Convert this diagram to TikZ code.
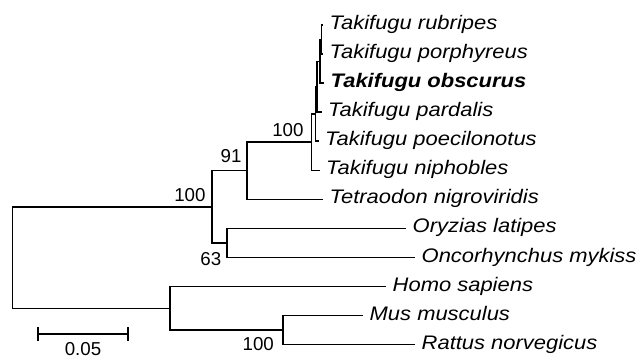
\documentclass[tikz,border=0pt]{standalone}
\usepackage{fontspec}
\setmainfont{Liberation Sans}
\newfontfamily\spfont{Liberation Sans}[FakeStretch=1.12]
\begin{document}
\begin{tikzpicture}[x=1pt,y=-1pt,
  branch/.style={line width=1.5pt,line join=miter},
  leaf/.style={inner sep=0pt,anchor=base west,xshift=6.5pt,yshift=-4.5pt,
    font=\spfont\itshape\fontsize{19.6}{23}\selectfont},
  boot/.style={inner sep=0pt,anchor=base east,font=\fontsize{18.7}{22}\selectfont},
  scalelabel/.style={inner sep=0pt,anchor=base,font=\fontsize{18.7}{22}\selectfont}]
\useasboundingbox (0,0) rectangle (639,358);

% leaf tips (end of terminal branches)
\coordinate (t1)  at (323,25);
\coordinate (t2)  at (323,54.1);
\coordinate (t3)  at (324,83.1);
\coordinate (t4)  at (321.5,112.2);
\coordinate (t5)  at (318.5,141.2);
\coordinate (t6)  at (319.5,170.3);
\coordinate (t7)  at (323,199.4);
\coordinate (t8)  at (406,228.4);
\coordinate (t9)  at (415,257.5);
\coordinate (t10) at (386,286.5);
\coordinate (t11) at (363,315.6);
\coordinate (t12) at (415,344.7);

% internal nodes
\coordinate (nA)    at (321.5,39.55);
\coordinate (nB)    at (320,61.3);
\coordinate (nC)    at (317,86.75);
\coordinate (nE)    at (315.5,114);
\coordinate (nD)    at (311.5,142.1);
\coordinate (n91)   at (247,170.75);
\coordinate (n63)   at (227,242.95);
\coordinate (nfish) at (212,206.85);
\coordinate (nmr)   at (283,330.15);
\coordinate (nmam)  at (170,308.3);
\coordinate (nroot) at (12.7,257.6);

% taxon names
\node[leaf] (l1)  at (t1)  {Takifugu rubripes};
\node[leaf] (l2)  at (t2)  {Takifugu porphyreus};
\node[leaf] (l3)  at (t3)  {\bfseries Takifugu obscurus};
\node[leaf] (l4)  at (t4)  {Takifugu pardalis};
\node[leaf] (l5)  at (t5)  {Takifugu poecilonotus};
\node[leaf] (l6)  at (t6)  {Takifugu niphobles};
\node[leaf] (l7)  at (t7)  {Tetraodon nigroviridis};
\node[leaf] (l8)  at (t8)  {Oryzias latipes};
\node[leaf] (l9)  at (t9)  {Oncorhynchus mykiss};
\node[leaf] (l10) at (t10) {Homo sapiens};
\node[leaf] (l11) at (t11) {Mus musculus};
\node[leaf] (l12) at (t12) {Rattus norvegicus};

% branches
\draw[branch] (nA) |- (t1);  \draw[branch] (nA) |- (t2);
\draw[branch] (nB) |- (nA);  \draw[branch] (nB) |- (t3);
\draw[branch] (nC) |- (nB);  \draw[branch] (nC) |- (t4);
\draw[branch] (nE) |- (nC);  \draw[branch] (nE) |- (t5);
\draw[branch] (nD) |- (nE);  \draw[branch] (nD) |- (t6);
\draw[branch] (n91) |- (nD); \draw[branch] (n91) |- (t7);
\draw[branch] (n63) |- (t8); \draw[branch] (n63) |- (t9);
\draw[branch] (nfish) |- (n91); \draw[branch] (nfish) |- (n63);
\draw[branch] (nmr) |- (t11); \draw[branch] (nmr) |- (t12);
\draw[branch] (nmam) |- (t10); \draw[branch] (nmam) |- (nmr);
\draw[branch] (nroot) |- (nfish); \draw[branch] (nroot) |- (nmam);

% bootstrap values
\node[boot] (bD)    at (303.7,136.7) {100};
\node[boot] (b91)   at (241.7,162.7) {91};
\node[boot] (bfish) at (205.7,201.7) {100};
\node[boot] (b63)   at (221.4,265)   {63};
\node[boot] (bmr)   at (274,350)     {100};

% scale bar
\coordinate (s1) at (38,334);
\coordinate (s2) at (128,334);
\draw[branch] (s1) -- (s2);
\draw[branch] ([yshift=7pt]s1) -- ([yshift=-7pt]s1);
\draw[branch] ([yshift=7pt]s2) -- ([yshift=-7pt]s2);
\node[scalelabel] (sl) at (83,355.5) {0.05};
\end{tikzpicture}
\end{document}
